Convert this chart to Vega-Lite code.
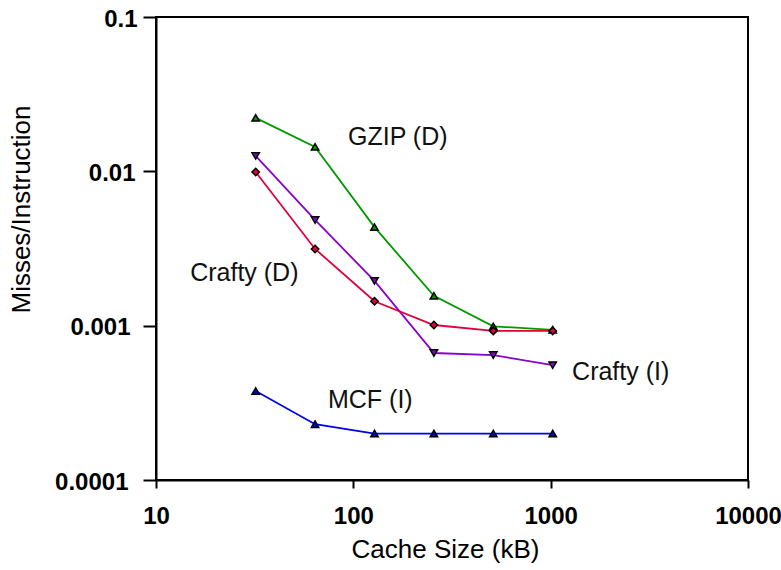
{
  "$schema": "https://vega.github.io/schema/vega-lite/v6.json",
  "width": 592,
  "height": 463,
  "autosize": {"type": "none"},
  "padding": {"left": 156, "top": 17, "right": 33, "bottom": 90},
  "background": "white",
  "config": {
    "view": {"stroke": "black", "strokeWidth": 2},
    "font": "Liberation Sans"
  },
  "datasets": {
    "series": [
      {"series": "GZIP (D)", "size": 32, "value": 0.0222},
      {"series": "GZIP (D)", "size": 64, "value": 0.0144},
      {"series": "GZIP (D)", "size": 128, "value": 0.00435},
      {"series": "GZIP (D)", "size": 256, "value": 0.00156},
      {"series": "GZIP (D)", "size": 512, "value": 0.00099},
      {"series": "GZIP (D)", "size": 1024, "value": 0.00094},
      {"series": "Crafty (I)", "size": 32, "value": 0.0126},
      {"series": "Crafty (I)", "size": 64, "value": 0.00484},
      {"series": "Crafty (I)", "size": 128, "value": 0.00195},
      {"series": "Crafty (I)", "size": 256, "value": 0.000665},
      {"series": "Crafty (I)", "size": 512, "value": 0.000645},
      {"series": "Crafty (I)", "size": 1024, "value": 0.000555},
      {"series": "Crafty (D)", "size": 32, "value": 0.0099},
      {"series": "Crafty (D)", "size": 64, "value": 0.00314},
      {"series": "Crafty (D)", "size": 128, "value": 0.00144},
      {"series": "Crafty (D)", "size": 256, "value": 0.00101},
      {"series": "Crafty (D)", "size": 512, "value": 0.000925},
      {"series": "Crafty (D)", "size": 1024, "value": 0.000925},
      {"series": "MCF (I)", "size": 32, "value": 0.000377},
      {"series": "MCF (I)", "size": 64, "value": 0.00023},
      {"series": "MCF (I)", "size": 128, "value": 0.0002},
      {"series": "MCF (I)", "size": 256, "value": 0.0002},
      {"series": "MCF (I)", "size": 512, "value": 0.0002},
      {"series": "MCF (I)", "size": 1024, "value": 0.0002}
    ],
    "labels": [
      {"label": "GZIP (D)", "size": 94, "value": 0.0167},
      {"label": "Crafty (D)", "size": 14.9, "value": 0.00219},
      {"label": "Crafty (I)", "size": 1284, "value": 0.0005},
      {"label": "MCF (I)", "size": 74.4, "value": 0.00033}
    ]
  },
  "layer": [
    {
      "data": {"name": "series"},
      "mark": {"type": "line", "strokeWidth": 1.8, "clip": true},
      "encoding": {
        "x": {
          "field": "size", "type": "quantitative",
          "scale": {"type": "log", "domain": [10, 10000]},
          "axis": {
            "title": "Cache Size (kB)",
            "values": [10, 100, 1000, 10000],
            "format": "d",
            "grid": false,
            "domainColor": "black", "domainWidth": 2,
            "tickColor": "black", "tickWidth": 2, "tickSize": 8,
            "labelFont": "Liberation Sans", "labelFontSize": 24, "labelFontWeight": "bold",
            "labelColor": "black", "labelPadding": 16, "labelFlush": false,
            "titleFont": "Liberation Sans", "titleFontSize": 26, "titleFontWeight": "normal",
            "titleColor": "black", "titleX": 289, "titleY": 69, "titleBaseline": "middle", "titleAlign": "center"
          }
        },
        "y": {
          "field": "value", "type": "quantitative",
          "scale": {"type": "log", "domain": [0.0001, 0.1]},
          "axis": {
            "title": "Misses/Instruction",
            "values": [0.0001, 0.001, 0.01, 0.1],
            "format": ".4~f",
            "grid": false,
            "domainColor": "black", "domainWidth": 2,
            "tickColor": "black", "tickWidth": 2, "tickSize": 13,
            "labelFont": "Liberation Sans", "labelFontSize": 24, "labelFontWeight": "bold",
            "labelColor": "black", "labelOffset": 2,
            "labelPadding": {"condition": [{"test": "datum.value < 0.0005", "value": 15}, {"test": "datum.value < 0.005", "value": 13}, {"test": "datum.value < 0.05", "value": 8}], "value": 6},
            "labelFlush": false,
            "titleFont": "Liberation Sans", "titleFontSize": 26, "titleFontWeight": "normal",
            "titleColor": "black", "titleX": -135, "titleY": 192, "titleBaseline": "middle", "titleAlign": "center", "titleAngle": -90
          }
        },
        "color": {
          "field": "series", "type": "nominal",
          "scale": {
            "domain": ["GZIP (D)", "Crafty (I)", "Crafty (D)", "MCF (I)"],
            "range": ["#009a00", "#8a00cc", "#e0003c", "#0000ee"]
          },
          "legend": null
        },
        "detail": {"field": "series"}
      }
    },
    {
      "data": {"name": "series"},
      "mark": {"type": "point", "filled": true, "size": 55, "stroke": "black", "strokeWidth": 1.5, "opacity": 1},
      "encoding": {
        "x": {"field": "size", "type": "quantitative", "scale": {"type": "log", "domain": [10, 10000]}},
        "y": {"field": "value", "type": "quantitative", "scale": {"type": "log", "domain": [0.0001, 0.1]}},
        "fill": {
          "field": "series", "type": "nominal",
          "scale": {
            "domain": ["GZIP (D)", "Crafty (I)", "Crafty (D)", "MCF (I)"],
            "range": ["#009a00", "#8a00cc", "#e0003c", "#0000ee"]
          },
          "legend": null
        },
        "shape": {
          "field": "series", "type": "nominal",
          "scale": {
            "domain": ["GZIP (D)", "Crafty (I)", "Crafty (D)", "MCF (I)"],
            "range": ["triangle-up", "triangle-down", "diamond", "triangle-up"]
          },
          "legend": null
        }
      }
    },
    {
      "data": {"name": "labels"},
      "mark": {"type": "text", "align": "left", "baseline": "middle", "font": "Liberation Sans", "fontSize": 25, "color": "#111111"},
      "encoding": {
        "x": {"field": "size", "type": "quantitative", "scale": {"type": "log", "domain": [10, 10000]}},
        "y": {"field": "value", "type": "quantitative", "scale": {"type": "log", "domain": [0.0001, 0.1]}},
        "text": {"field": "label"}
      }
    }
  ]
}
